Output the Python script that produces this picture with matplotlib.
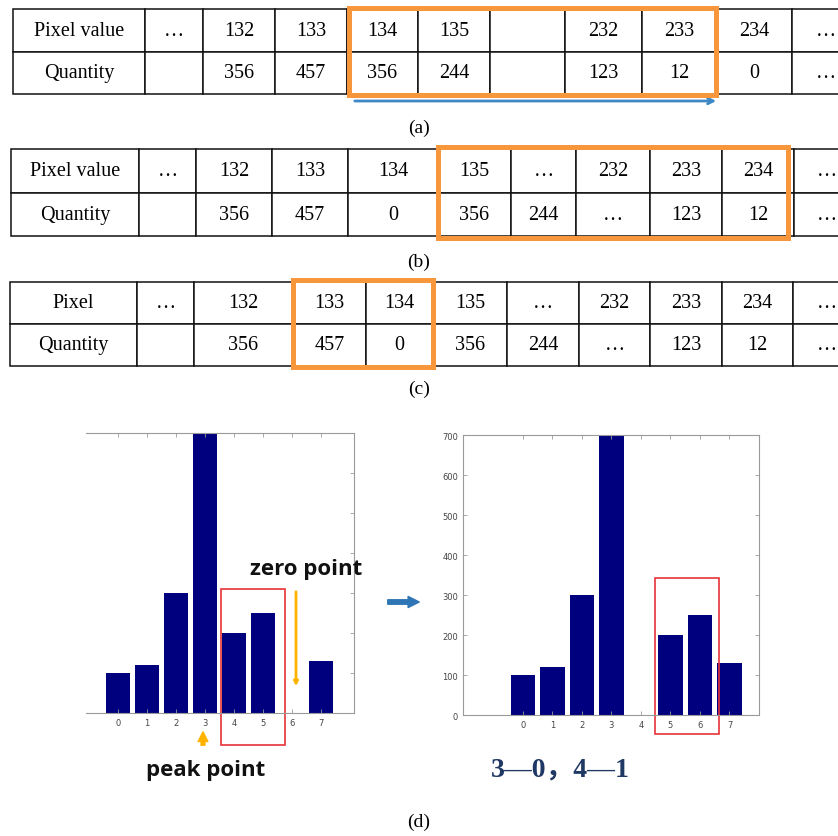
import matplotlib
matplotlib.use("Agg")
import matplotlib.pyplot as plt
from matplotlib.patches import Rectangle

W, H = 838, 837

# table contents
rows_a = [["Pixel value", "…", "132", "133", "134", "135", "", "232", "233", "234", "…"],
          ["Quantity", "", "356", "457", "356", "244", "", "123", "12", "0", "…"]]
rows_b = [["Pixel value", "…", "132", "133", "134", "135", "…", "232", "233", "234", "…"],
          ["Quantity", "", "356", "457", "0", "356", "244", "…", "123", "12", "…"]]
rows_c = [["Pixel", "…", "132", "133", "134", "135", "…", "232", "233", "234", "…"],
          ["Quantity", "", "356", "457", "0", "356", "244", "…", "123", "12", "…"]]

# histogram before / after shifting
bins = [0, 1, 2, 3, 4, 5, 6, 7]
counts_before = [100, 120, 300, 700, 200, 250, 0, 130]
counts_after = [100, 120, 300, 700, 0, 200, 250, 130]

fig = plt.figure(figsize=(W / 100, H / 100), dpi=100)
base = fig.add_axes([0, 0, 1, 1])
base.set_xlim(0, W)
base.set_ylim(H, 0)
base.axis("off")


def draw_table(rows, edges, top, bottom):
    widths = [edges[i + 1] - edges[i] for i in range(len(edges) - 1)]
    bbox = [edges[0] / W, 1 - bottom / H, (edges[-1] - edges[0]) / W, (bottom - top) / H]
    tb = base.table(cellText=rows, colWidths=widths, cellLoc="center", bbox=bbox)
    tb.auto_set_font_size(False)
    for cell in tb.get_celld().values():
        cell.set_linewidth(1.1)
        cell.set_edgecolor("#111111")
        t = cell.get_text()
        t.set_fontfamily("Liberation Serif")
        t.set_fontsize(14.5)
    return tb


draw_table(rows_a, [13, 145, 203, 275, 347, 418, 490, 565, 642, 717, 792, 860], 10, 95)
draw_table(rows_b, [11, 139, 196, 272, 348, 438, 511, 576, 650, 722, 794, 860], 150, 237)
draw_table(rows_c, [10, 137, 194, 293, 366, 433, 507, 579, 650, 722, 793, 860], 283, 367)

orange = "#F7963B"
for (x0, y0, x1, y1) in [(349, 9, 716, 96), (438, 148, 788, 239), (293, 281, 433, 368)]:
    base.add_patch(Rectangle((x0, y0), x1 - x0, y1 - y0, fill=False,
                             ec=orange, lw=3.6, zorder=5))

base.annotate("", xy=(719, 102), xytext=(352, 102),
              arrowprops=dict(arrowstyle="->", color="#3F88C5", lw=2))

for lab, y in [("(a)", 128), ("(b)", 262), ("(c)", 389)]:
    base.text(419, y, lab, ha="center", va="center", fontsize=14,
              fontfamily="Liberation Serif")
base.text(419, 822, "(d)", ha="center", va="center", fontsize=14,
          fontfamily="Liberation Serif")


def hist_axes(px0, py0, px1, py1, xlim, counts, show_left):
    ax = fig.add_axes([px0 / W, 1 - py1 / H, (px1 - px0) / W, (py1 - py0) / H])
    ax.bar(bins, counts, width=0.82, color="#00007F")
    ax.set_xlim(*xlim)
    ax.set_ylim(0, 700)
    ax.set_xticks(bins)
    ax.set_yticks(range(0, 701, 100))
    for s in ax.spines.values():
        s.set_color("#9A9A9A")
        s.set_linewidth(0.8)
    ax.spines["left"].set_visible(show_left)
    ax.tick_params(axis="both", direction="in", length=3, width=0.6, color="#9A9A9A",
                   labelsize=6, labelcolor="#444444", top=True, right=True)
    if not show_left:
        ax.tick_params(axis="y", left=False, labelleft=False)
    return ax


ax1 = hist_axes(86, 434, 354, 714, (-1.1, 8.14), counts_before, False)
ax2 = hist_axes(463, 436, 759, 716, (-2.03, 8.0), counts_after, True)

red = "#E8343A"
ax1.add_patch(Rectangle((3.55, -80), 2.2, 390, fill=False, ec=red, lw=1.2, clip_on=False))
ax2.add_patch(Rectangle((4.47, -48), 2.17, 390, fill=False, ec=red, lw=1.2, clip_on=False))

# overlay for the labels and arrows drawn over the charts
top = fig.add_axes([0, 0, 1, 1])
top.set_xlim(0, W)
top.set_ylim(H, 0)
top.axis("off")

top.text(306, 570, "zero point", ha="center", va="center", fontsize=16,
         fontfamily="Open Sans", fontweight="bold", color="#111111")
top.text(206, 771, "peak point", ha="center", va="center", fontsize=16,
         fontfamily="Open Sans", fontweight="bold", color="#111111")

gold = "#FFB300"
top.annotate("", xy=(296, 690), xytext=(296, 590),
             arrowprops=dict(arrowstyle="-|>", color=gold, lw=2, mutation_scale=6))
top.annotate("", xy=(203, 730), xytext=(203, 749),
             arrowprops=dict(arrowstyle="simple", color=gold, mutation_scale=14))
top.annotate("", xy=(422, 603), xytext=(385, 603),
             arrowprops=dict(arrowstyle="simple", color="#2E75B6", mutation_scale=16))

top.text(560, 770, "3—0，4—1", ha="center", va="center", fontsize=20, fontweight="bold",
         fontfamily=["Liberation Serif", "Noto Sans CJK SC"], color="#1F3864")

fig.savefig("out.png", dpi=100)
